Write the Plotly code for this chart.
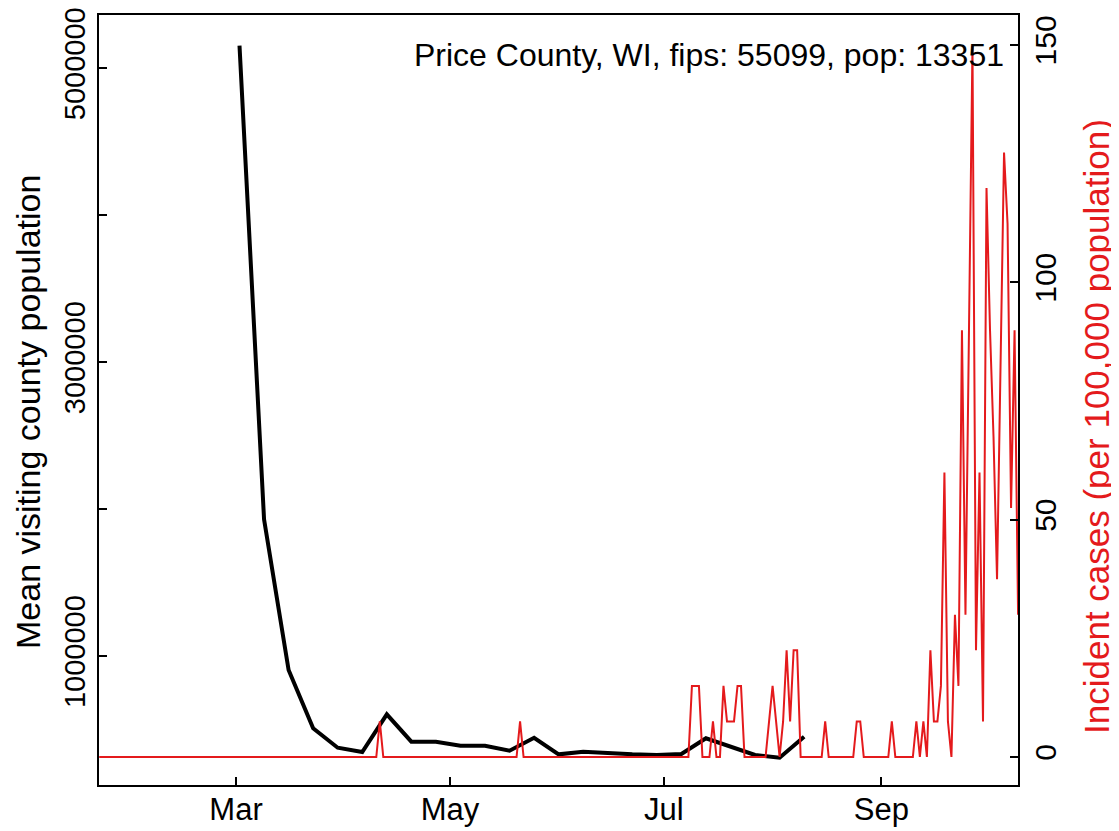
import pandas as pd
import plotly.graph_objects as go

# ---------------- data ----------------
# weekly mean visiting county population (black line)
visit_dates = pd.date_range("2020-03-02", periods=24, freq="7D")
visit_pop = [5152000, 1930000, 905000, 508000, 376000, 347000, 603000, 417000,
             417000, 390000, 390000, 356000, 444000, 331000, 349000, 338000,
             331000, 327000, 333000, 440000, 383000, 327000, 308000, 451000]

# daily incident cases per 100,000 population (red line), 2020-01-22 .. 2020-10-10
case_dates = pd.date_range("2020-01-22", "2020-10-10", freq="D")
inc_jan = [0, 0, 0, 0, 0, 0, 0, 0, 0, 0]
inc_feb = [0, 0, 0, 0, 0, 0, 0, 0, 0, 0, 0, 0, 0, 0, 0, 0, 0, 0, 0, 0,
           0, 0, 0, 0, 0, 0, 0, 0, 0]
inc_mar = [0, 0, 0, 0, 0, 0, 0, 0, 0, 0, 0, 0, 0, 0, 0, 0, 0, 0, 0, 0,
           0, 0, 0, 0, 0, 0, 0, 0, 0, 0, 0]
inc_apr = [0, 0, 0, 0, 0, 0, 0, 0, 0, 0, 7.49, 0, 0, 0, 0, 0, 0, 0, 0, 0,
           0, 0, 0, 0, 0, 0, 0, 0, 0, 0]
inc_may = [0, 0, 0, 0, 0, 0, 0, 0, 0, 0, 0, 0, 0, 0, 0, 0, 0, 0, 0, 0,
           7.49, 0, 0, 0, 0, 0, 0, 0, 0, 0, 0]
inc_jun = [0, 0, 0, 0, 0, 0, 0, 0, 0, 0, 0, 0, 0, 0, 0, 0, 0, 0, 0, 0,
           0, 0, 0, 0, 0, 0, 0, 0, 0, 0]
inc_jul = [0, 0, 0, 0, 0, 0, 0, 0, 14.98, 14.98, 14.98, 0, 0, 0, 7.49, 0, 0, 14.98, 7.49, 7.49,
           7.49, 14.98, 14.98, 0, 0, 0, 0, 0, 0, 0, 7.49]
inc_aug = [14.98, 7.49, 0, 7.49, 22.47, 7.49, 22.47, 22.47, 0, 0, 0, 0, 0, 0, 0, 7.49, 0, 0, 0, 0,
           0, 0, 0, 0, 7.49, 7.49, 0, 0, 0, 0, 0]
inc_sep = [0, 0, 0, 7.49, 0, 0, 0, 0, 0, 0, 7.49, 0, 7.49, 0, 22.47, 7.49, 7.49, 14.98, 59.92, 7.49,
           0, 29.96, 14.98, 89.88, 29.96, 89.88, 149.80, 22.47, 59.92, 7.49]
inc_oct = [119.84, 89.88, 67.41, 37.45, 82.39, 127.33, 112.35, 52.43, 89.88, 29.96]
incidence = inc_jan + inc_feb + inc_mar + inc_apr + inc_may + inc_jun + inc_jul + inc_aug + inc_sep + inc_oct

x_ticks = ["2020-03-01", "2020-05-01", "2020-07-01", "2020-09-01"]
x_tick_labels = ["Mar", "May", "Jul", "Sep"]
y_ticks = [1000000, 2000000, 3000000, 4000000, 5000000]
y_tick_labels = ["1000000", "", "3000000", "", "5000000"]
y2_ticks = [0, 50, 100, 150]
y2_tick_labels = ["0", "50", "100", "150"]

title_text = "Price County, WI, fips: 55099, pop: 13351"
ylab = "Mean visiting county population"
y2lab = "Incident cases (per 100,000 population)"

RED = "#E41A1C"
FONT = "Liberation Sans, Arial, Helvetica, sans-serif"

# page has an 8px body margin: figure coords = page coords - 8
L, R, T, B = 91, 1010, 7, 777
W, H = 1111, 823
PW, PH = R - L, B - T


def px(xp):  # page x -> paper x
    return (xp - 8 - L) / PW


def py(yp):  # page y -> paper y
    return (B - (yp - 8)) / PH


fig = go.Figure()
fig.add_trace(go.Scatter(x=visit_dates, y=visit_pop, mode="lines",
                         line=dict(color="black", width=4), yaxis="y", showlegend=False))
fig.add_trace(go.Scatter(x=case_dates, y=incidence, mode="lines",
                         line=dict(color=RED, width=2), yaxis="y2", showlegend=False))

axis_common = dict(showline=True, linecolor="black", linewidth=1.6, ticks="inside",
                   ticklen=8, tickwidth=1.6, tickcolor="black", showgrid=False,
                   zeroline=False, automargin=False, ticklabeloverflow="allow")

fig.update_layout(
    width=W, height=H, autosize=False,
    margin=dict(l=L, r=W - R, t=T, b=H - B, pad=0),
    paper_bgcolor="white", plot_bgcolor="white",
    font=dict(family=FONT, size=30, color="black"),
    xaxis=dict(range=["2020-01-21 22:30", "2020-10-09 23:30"], tickvals=x_ticks,
               ticktext=x_tick_labels, mirror=True, ticklabelstandoff=-4,
               tickfont=dict(family=FONT, size=31, color="black"), **axis_common),
    yaxis=dict(range=[122400, 5361000], tickvals=y_ticks, ticktext=y_tick_labels,
               tickangle=-90, mirror=True, ticklabelstandoff=1,
               tickfont=dict(family=FONT, size=29, color="black"), **axis_common),
    yaxis2=dict(range=[-5.9, 156.3], tickvals=y2_ticks, ticktext=y2_tick_labels,
                overlaying="y", side="right", tickangle=-90, ticklabelstandoff=0,
                tickfont=dict(family=FONT, size=30, color="black"), **axis_common),
    annotations=[
        dict(text=title_text, xref="paper", yref="paper", x=px(1006),
             y=py(55), xanchor="right", yanchor="middle", showarrow=False,
             font=dict(family=FONT, size=32, color="black")),
        dict(text=ylab, xref="paper", yref="paper", x=px(28),
             y=py(412), xanchor="center", yanchor="middle", textangle=-90,
             showarrow=False, font=dict(family=FONT, size=34, color="black")),
        dict(text=y2lab, xref="paper", yref="paper", x=px(1097),
             y=py(427), xanchor="center", yanchor="middle", textangle=-90,
             showarrow=False, font=dict(family=FONT, size=35, color=RED)),
    ],
)

fig.write_html("out.html")
